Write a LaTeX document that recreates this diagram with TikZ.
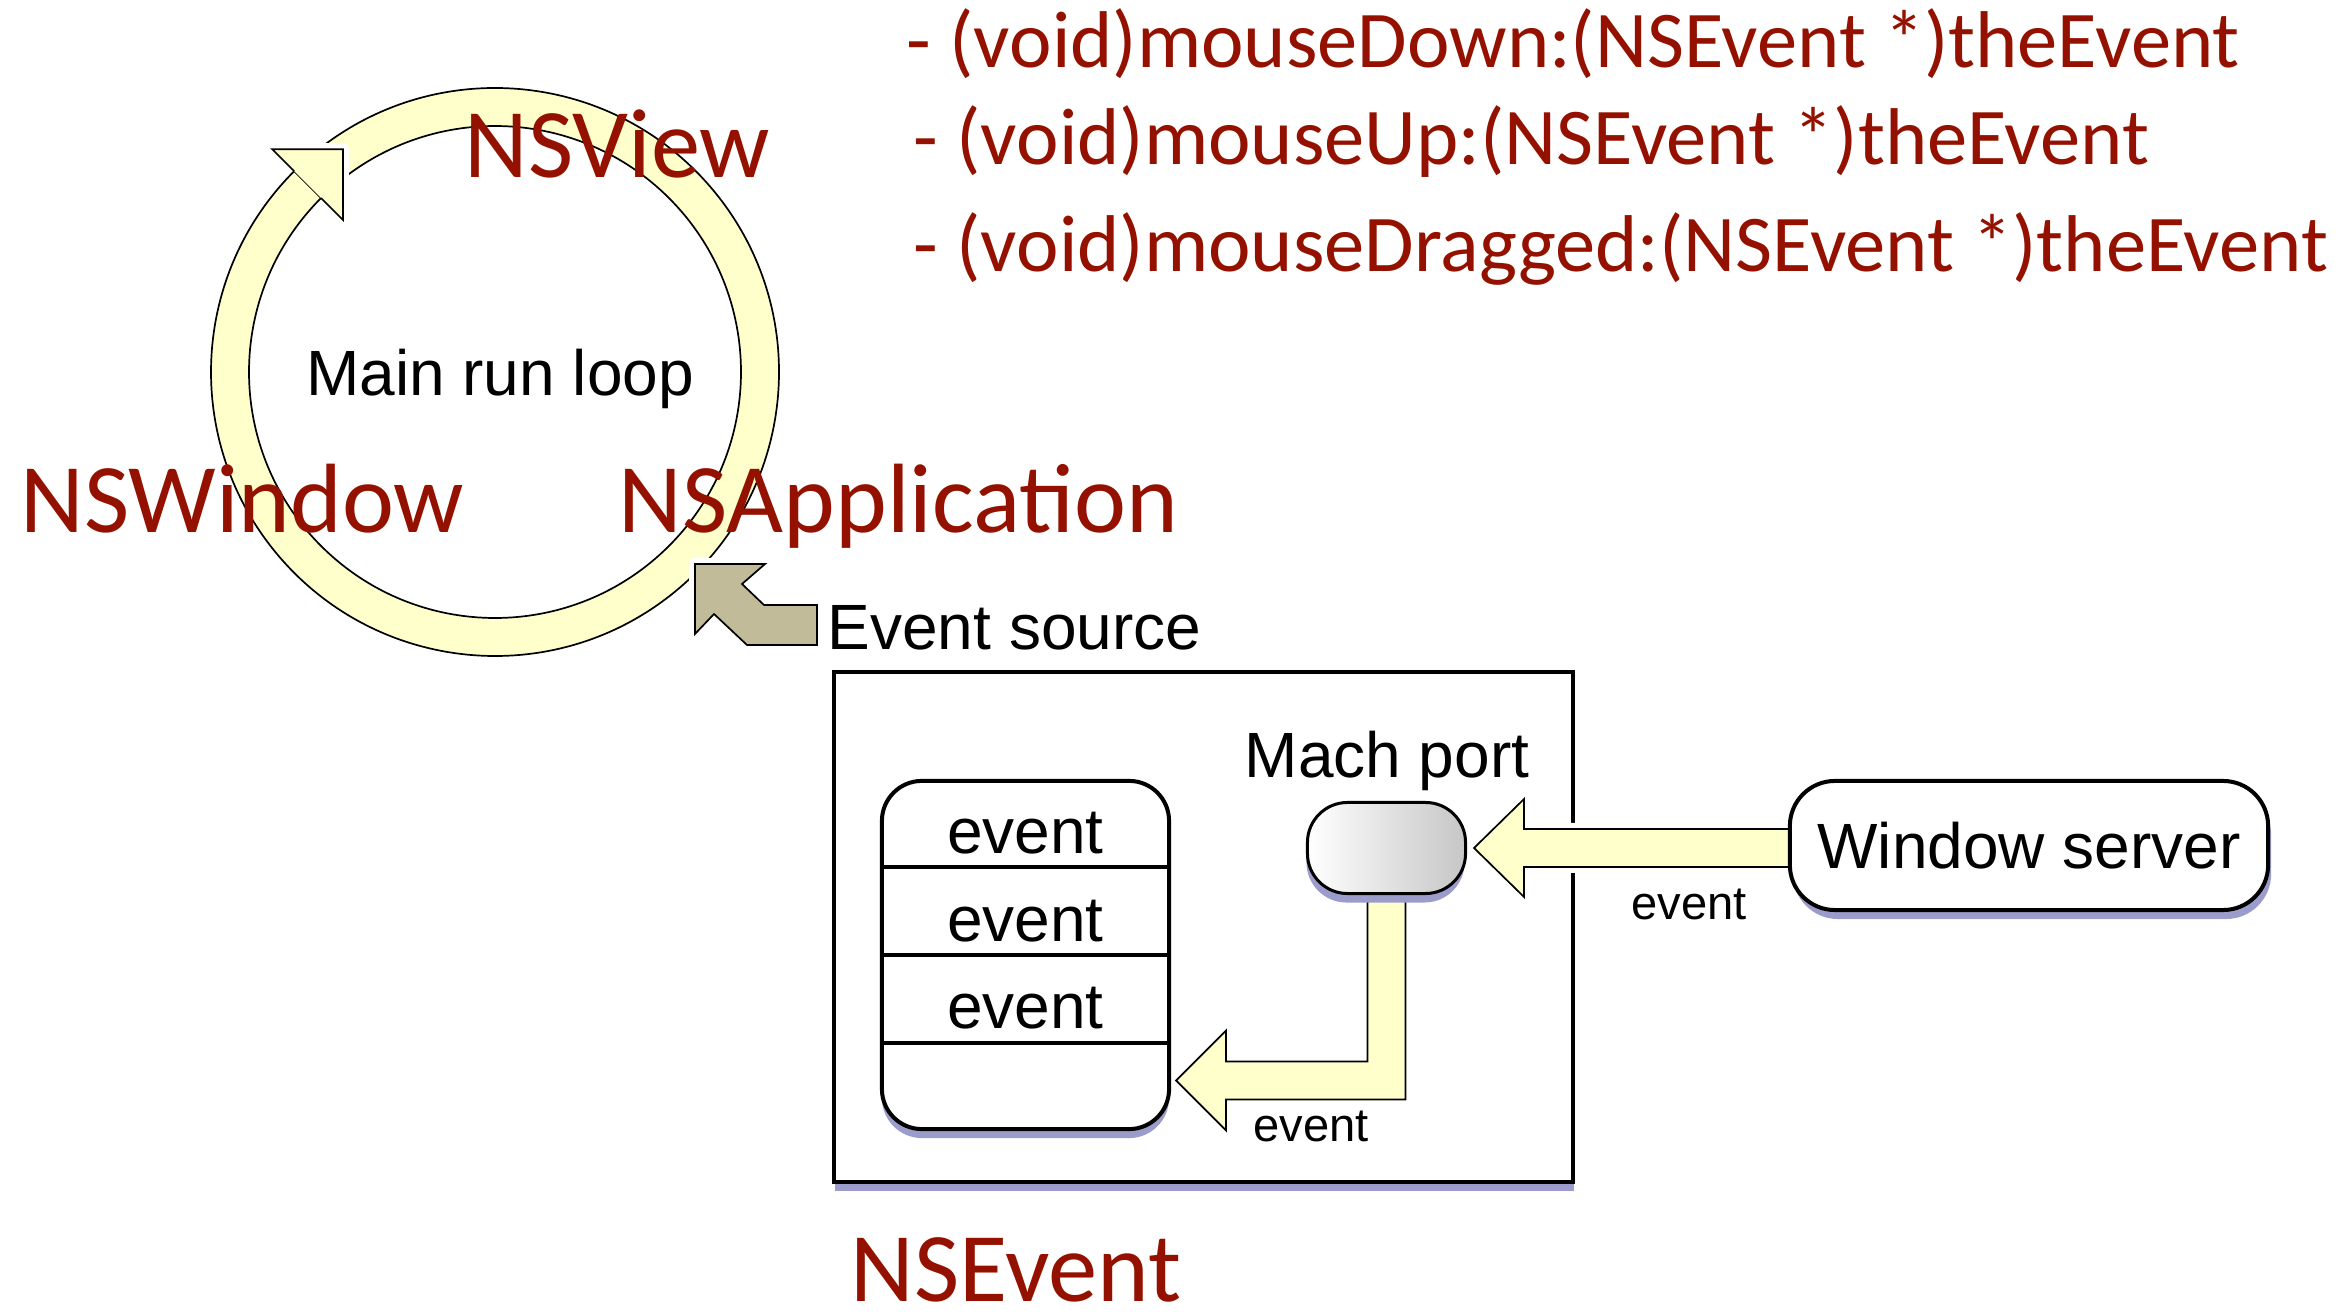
\documentclass[tikz,border=0pt]{standalone}
\usepackage{fontspec}
\setmainfont{Liberation Sans}
\newfontfamily\gillfont{Carlito}
\usetikzlibrary{calc,shadows}
\definecolor{nsred}{RGB}{148,17,0}
\definecolor{pale}{RGB}{255,255,204}
\definecolor{khaki}{RGB}{193,187,153}
\definecolor{lav}{RGB}{156,156,204}
\definecolor{portgray}{RGB}{198,198,198}
\pgfdeclarelayer{back}
\pgfdeclarelayer{mid}
\pgfsetlayers{back,mid,main}
\begin{document}
\begin{tikzpicture}[x=0.01cm, y=-0.01cm,
  redbig/.style={text=nsred, font=\gillfont\fontsize{28}{30}\selectfont, inner sep=0pt, anchor=base west},
  redmid/.style={text=nsred, font=\gillfont\fontsize{22.9}{26}\selectfont, inner sep=0pt, anchor=base west},
  blk/.style={font=\fontsize{18.2}{21}\selectfont, inner sep=0pt},
  lblsmall/.style={font=\fontsize{13.4}{16}\selectfont, inner sep=0pt, anchor=base west},
  outline/.style={draw=black, line width=0.17mm, line join=miter},
  halo/.style={draw=white, line width=1.2mm, line join=round},
  lavshadow/.style={drop shadow={shadow xshift=#1, shadow yshift=-0.9mm, fill=lav, opacity=1}},
  lavshadow/.default=0.1mm,
]
\useasboundingbox (0,0) rectangle (2350,1316);

% ---- main run loop ring
\begin{scope}[shift={(495,372)}, yscale=-1]
  \path[fill=pale, outline] (130:284) arc[start angle=130, end angle=-225, radius=284]
     -- (-225:246) arc[start angle=-225, end angle=130, radius=246] -- cycle;
  \coordinate (ringtip) at ($(135:265)+(45:50)$);
  \coordinate (ringout) at (135:315);
  \coordinate (ringin) at (135:215);
  \path[halo] (ringout) -- (ringtip) -- (ringin);
  \path[fill=pale, outline] (135:284) -- (ringout) -- (ringtip) -- (ringin) -- (135:246);
\end{scope}

% ---- event source arrow
\path[fill=khaki, outline, preaction={halo}] (817,605) -- (764,605) -- (742,584) -- (765,564)
   -- (695,564) -- (695,634) -- (714,614) -- (747,645) -- (817,645) -- cycle;

% ---- event source box
\begin{pgfonlayer}{back}
\node[draw, fill=white, line width=0.45mm, minimum width=73.85mm, minimum height=50.95mm,
      inner sep=0pt, lavshadow] (srcbox) at (1203.5,927) {};
\end{pgfonlayer}

% ---- nodes
\node[draw, fill=white, line width=0.4mm, rounded corners=4mm, minimum width=28.7mm,
      minimum height=34.8mm, inner sep=0pt, lavshadow=0mm] (queue) at (1025.5,955) {};
\foreach \f in {0.25,0.5,0.75}
  \draw[line width=0.4mm] ($(queue.north west)!\f!(queue.south west)$) -- ($(queue.north east)!\f!(queue.south east)$);
\node[blk, anchor=base] (ev1) at (1025.5,854) {event};
\node[blk, anchor=base] (ev2) at (1025.5,942) {event};
\node[blk, anchor=base] (ev3) at (1025.5,1029) {event};

\node[draw, line width=0.3mm, rounded corners=4mm, minimum width=15.8mm, minimum height=9.1mm,
      inner sep=0pt, left color=white, right color=portgray, lavshadow=-0.1mm] (port) at (1386.5,848) {};
\node[blk, anchor=base] (machlbl) at (1387,778) {Mach port};

\node[draw, fill=white, line width=0.4mm, rounded corners=4.5mm, minimum width=47.8mm,
      minimum height=12.9mm, blk, lavshadow=0.3mm] (ws) at (2029,845.5) {Window server};

% ---- yellow block arrows
\begin{pgfonlayer}{mid}
\coordinate (ptip) at ($(port.east)+(7,0)$);
\path[fill=pale, outline, preaction={halo}] ($(ws.west |- ptip)+(6,-19)$) -- ($(ptip)+(50,-19)$)
   -- ($(ptip)+(50,-49)$) -- (ptip) -- ($(ptip)+(50,49)$) -- ($(ptip)+(50,19)$) -- ($(ws.west |- ptip)+(6,19)$);
\coordinate (qtip) at ($(queue.east)+(5,125.5)$);
\path[fill=pale, outline, preaction={halo}] ($(port.south)+(-19,-6)$) |- ($(qtip)+(50,-19)$)
   -- ($(qtip)+(50,-50)$) -- (qtip) -- ($(qtip)+(50,50)$) -- ($(qtip)+(50,19)$) -| ($(port.south)+(19,-6)$);
\end{pgfonlayer}

% ---- labels
\node[lblsmall] (lbl1) at (1631,920) {event};
\node[lblsmall] (lbl2) at (1253,1142) {event};
\node[blk, anchor=base] (loop) at (500,396) {Main run loop};
\node[blk, anchor=base west] (evsrc) at (827,650) {Event source};

\node[redmid] (m1) at (906,68) {- (void)mouseDown:(NSEvent *)theEvent};
\node[redmid] (m2) at (913,165) {- (void)mouseUp:(NSEvent *)theEvent};
\node[redmid] (m3) at (913,272) {- (void)mouseDragged:(NSEvent *)theEvent};
\node[redbig] (nsview) at (464,178) {NSView};
\node[redbig] (nswindow) at (20,533) {NSWindow};
\node[redbig] (nsapp) at (618,533) {NSApplication};
\node[redbig] (nsevent) at (850,1302) {NSEvent};
\end{tikzpicture}
\end{document}
